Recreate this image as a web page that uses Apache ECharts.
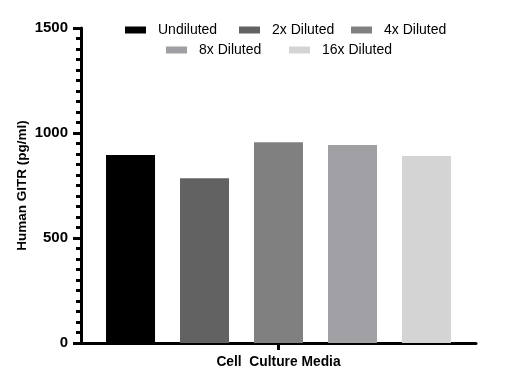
<!DOCTYPE html>
<html><head><meta charset="utf-8">
<script src="https://cdn.jsdelivr.net/npm/echarts@6/dist/echarts.min.js"></script>
<style>html,body{margin:0;padding:0;background:#fff}#c{width:520px;height:389px}</style>
</head><body><div id="c"></div>
<script>
const categories = ["Cell  Culture Media"];
const seriesNames = ["Undiluted", "2x Diluted", "4x Diluted", "8x Diluted", "16x Diluted"];
const seriesValues = [[895], [784], [956], [943], [890]];
const seriesColors = ["#000000", "#626262", "#808080", "#a0a0a4", "#d4d4d4"];
const yTicks = [0, 500, 1000, 1500];

const legendPos = [[125, 23], [239, 23], [351, 23], [166, 43], [289, 43]];
const FONT = "Liberation Sans, Arial, sans-serif";

const chart = echarts.init(document.getElementById('c'), null, {renderer: 'canvas'});
chart.setOption({
  animation: false,
  backgroundColor: '#fff',
  grid: {left: 81, right: 44, top: 28, bottom: 46},
  legend: seriesNames.map((n, i) => ({
    data: [n], left: legendPos[i][0], top: legendPos[i][1], padding: 0,
    itemWidth: 21, itemHeight: 7, icon: 'rect',
    textStyle: {fontFamily: FONT, fontSize: 14, color: '#000', padding: [0, 0, 0, 7]}
  })),
  xAxis: {
    type: 'category', data: categories,
    axisLine: {show: true, lineStyle: {color: '#000', width: 3}},
    axisTick: {show: true, alignWithLabel: true, length: 7, lineStyle: {width: 3, color: '#000'}},
    axisLabel: {fontFamily: FONT, fontSize: 13.8, fontWeight: 'bold', color: '#000', margin: 12}
  },
  yAxis: {
    type: 'value', min: yTicks[0], max: yTicks[yTicks.length - 1], interval: 500,
    name: 'Human GITR (pg/ml)', nameLocation: 'middle', nameGap: 52, nameMoveOverlap: false,
    nameTextStyle: {fontFamily: FONT, fontSize: 13.5, fontWeight: 'bold', color: '#000'},
    axisLine: {show: true, lineStyle: {color: '#000', width: 3}},
    axisTick: {show: true, length: 8, lineStyle: {width: 3, color: '#000'}},
    minorTick: {show: true, splitNumber: 10, length: 5, lineStyle: {width: 3, color: '#000'}},
    splitLine: {show: false},
    axisLabel: {fontFamily: FONT, fontSize: 15, fontWeight: 'bold', color: '#000', margin: 13,
      formatter: v => String(v)}
  },
  series: seriesNames.map((n, i) => ({
    name: n, type: 'bar', data: seriesValues[i], barWidth: 49, barGap: '51%',
    itemStyle: {color: seriesColors[i]}
  }))
});
</script></body></html>
